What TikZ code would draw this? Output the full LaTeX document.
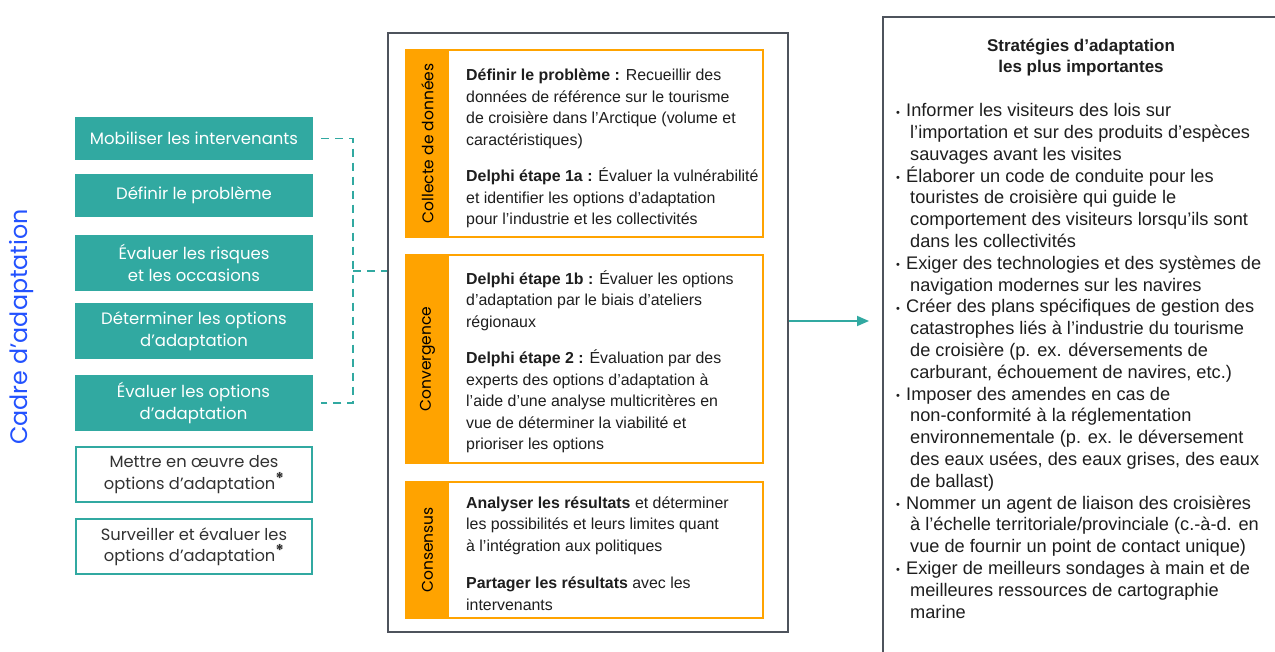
\documentclass[tikz,border=0pt]{standalone}
\usepackage{fontspec}
\setmainfont{Liberation Sans}
\newfontfamily\pop{Poppins}
\usetikzlibrary{arrows.meta}
\definecolor{tealc}{RGB}{49,169,161}
\definecolor{orangec}{RGB}{255,163,0}
\definecolor{bluec}{RGB}{35,82,255}
\definecolor{frame}{RGB}{78,83,92}
\definecolor{txt}{RGB}{30,30,30}
\definecolor{txtg}{RGB}{50,50,50}
\tikzset{
  tealbox/.style={fill=tealc, text=white, minimum width=238pt, align=center, inner sep=0pt,
    font=\pop\fontsize{16.5}{21.5}\selectfont},
  whitebox/.style={draw=tealc, line width=1.6pt, fill=white, text=txtg, minimum width=236pt, align=center, inner sep=0pt,
    font=\pop\fontsize{16.3}{21.5}\selectfont},
  obox/.style={draw=orangec, line width=1.5pt, minimum width=357pt, inner sep=0pt},
  ostrip/.style={fill=orangec, minimum width=44pt, inner sep=0pt},
  olabel/.style={rotate=90, text=black, font=\pop\fontsize{15.5}{16}\selectfont, inner sep=0pt},
  bodytext/.style={anchor=base west, inner sep=0pt, text=txt, font=\fontsize{15.9}{21.5}\selectfont},
  dashc/.style={draw=tealc, line width=1.8pt, dash pattern=on 8pt off 6pt},
  arr/.style={draw=tealc, line width=1.8pt, -{Triangle[length=12pt,width=10pt]}},
}
\newcommand{\astx}{\raisebox{5pt}{\textbf{*}}}
\newcommand{\bul}{\makebox[10pt][l]{\raisebox{0.5pt}{\fontsize{11}{11}\selectfont •}}}
\newcommand{\cont}{\hspace*{14pt}}
\begin{document}
\begin{tikzpicture}[x=1pt,y=-1pt]
\useasboundingbox (0,0) rectangle (1275,652);
\fill[white] (0,0) rectangle (1275,652);

% title on the left
\node[rotate=90, text=bluec, font=\pop\fontsize{23.8}{26}\selectfont, inner sep=0pt] (cadre) at (22,327) {Cadre d’adaptation};

% left column
\node[tealbox, minimum height=43pt] (b1) at (194,138.5) {Mobiliser les intervenants};
\node[tealbox, minimum height=43pt] (b2) at (194,195.5) {Définir le problème};
\node[tealbox, minimum height=56pt] (b3) at (194,263) {Évaluer les risques\\et les occasions};
\node[tealbox, minimum height=56pt] (b4) at (194,331) {Déterminer les options\\d’adaptation};
\node[tealbox, minimum height=56pt] (b5) at (193.5,403) {Évaluer les options\\d’adaptation};
\node[whitebox, minimum height=55pt] (b6) at (194,474.5) {Mettre en œuvre des\\options d’adaptation\astx};
\node[whitebox, minimum height=55pt] (b7) at (194,546.5) {Surveiller et évaluer les\\options d’adaptation\astx};

% middle frame
\node[draw=frame, line width=2pt, minimum width=400pt, minimum height=599pt, inner sep=0pt] (mid) at (588,332.5) {};

% dashed bracket
\coordinate (j) at (353,271);
\draw[dashc] ([xshift=8pt]b1.east) -| (j) |- ([xshift=8pt]b5.east);
\draw[dashc] (j) -- (j -| mid.west);

% orange boxes
\node[obox, minimum height=187pt] (oa) at (584.5,143.5) {};
\node[ostrip, minimum height=187pt, anchor=west] (sa) at (oa.west) {};
\node[olabel] (la) at (sa.center) {Collecte de données};

\node[obox, minimum height=208pt] (ob) at (584.5,359) {};
\node[ostrip, minimum height=208pt, anchor=west] (sb) at (ob.west) {};
\node[olabel] (lb) at (sb.center) {Convergence};

\node[obox, minimum height=136pt] (oc) at (584.5,550) {};
\node[ostrip, minimum height=136pt, anchor=west] (sc) at (oc.west) {};
\node[olabel] (lc) at (sc.center) {Consensus};

\node[bodytext] (ta) at (466,81) {\parbox[t]{330pt}{\raggedright
\textbf{Définir le problème :} Recueillir des\\
données de référence sur le tourisme\\
de croisière dans l’Arctique (volume et\\
caractéristiques)\\[15pt]
\textbf{Delphi étape 1a :} Évaluer la vulnérabilité\\
et identifier les options d’adaptation\\
pour l’industrie et les collectivités}};

\node[bodytext] (tb) at (466,284.5) {\parbox[t]{330pt}{\raggedright
\textbf{Delphi étape 1b :} Évaluer les options\\
d’adaptation par le biais d’ateliers\\
régionaux\\[15pt]
\textbf{Delphi étape 2 :} Évaluation par des\\
experts des options d’adaptation à\\
l’aide d’une analyse multicritères en\\
vue de déterminer la viabilité et\\
prioriser les options}};

\node[bodytext] (tc) at (466,508) {\parbox[t]{330pt}{\raggedright
\textbf{Analyser les résultats} et déterminer\\
les possibilités et leurs limites quant\\
à l’intégration aux politiques\\[16pt]
\textbf{Partager les résultats} avec les\\
intervenants}};

% right frame (extends beyond the picture)
\coordinate (rtl) at (883,17);
\draw[draw=frame, line width=2pt] (1290,17) -- (rtl) -- (883,670);

% arrow
\draw[arr, shorten >=14pt] ([yshift=11.5pt]mid.east) -- ([yshift=11.5pt]mid.east -| rtl);

% right text
\node[anchor=base, inner sep=0pt, text=txt, font=\bfseries\fontsize{17}{21.5}\selectfont, align=center] (title) at (1081,73) {Stratégies d’adaptation\\les plus importantes};

\node[bodytext] (list) at (896,116.7) {\parbox[t]{400pt}{\fontsize{18.2}{21.8}\selectfont\raggedright
\bul Informer les visiteurs des lois sur\\
\cont l’importation et sur des produits d’espèces\\
\cont sauvages avant les visites\\
\bul Élaborer un code de conduite pour les\\
\cont touristes de croisière qui guide le\\
\cont comportement des visiteurs lorsqu’ils sont\\
\cont dans les collectivités\\
\bul Exiger des technologies et des systèmes de\\
\cont navigation modernes sur les navires\\
\bul Créer des plans spécifiques de gestion des\\
\cont catastrophes liés à l’industrie du tourisme\\
\cont de croisière (p. ex. déversements de\\
\cont carburant, échouement de navires, etc.)\\
\bul Imposer des amendes en cas de\\
\cont non-conformité à la réglementation\\
\cont environnementale (p. ex. le déversement\\
\cont des eaux usées, des eaux grises, des eaux\\
\cont de ballast)\\
\bul Nommer un agent de liaison des croisières\\
\cont à l’échelle territoriale/provinciale (c.-à-d. en\\
\cont vue de fournir un point de contact unique)\\
\bul Exiger de meilleurs sondages à main et de\\
\cont meilleures ressources de cartographie\\
\cont marine}};
\end{tikzpicture}
\end{document}
